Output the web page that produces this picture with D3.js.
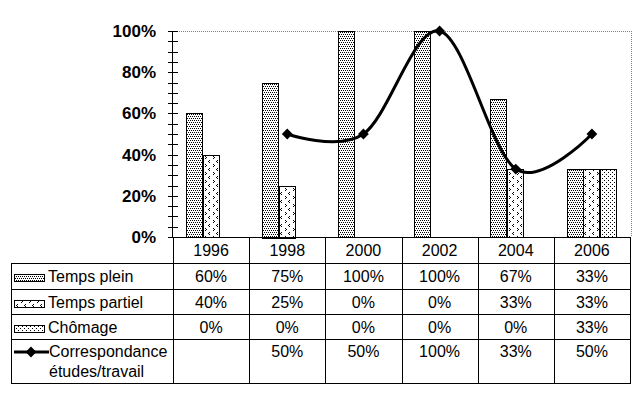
<!DOCTYPE html>
<html><head><meta charset="utf-8">
<script src="https://cdn.jsdelivr.net/npm/d3@7"></script>
<style>
body{margin:0;background:#fff;}
svg{display:block;font-family:"Liberation Sans",Arial,sans-serif;}
</style></head>
<body><svg id="c" width="640" height="400"></svg>
<script>
const years = ["1996","1998","2000","2002","2004","2006"];
const seriesNames = ["Temps plein","Temps partiel","Chômage"];
const tempsPlein = [0.60,0.75,1.00,1.00,0.67,0.33];
const tempsPartiel = [0.40,0.25,0.00,0.00,0.33,0.33];
const chomage = [0.00,0.00,0.00,0.00,0.00,0.33];
const correspondance = [null,0.50,0.50,1.00,0.33,0.50];
const lineName = ["Correspondance","études/travail"];
const yTicks = [0,0.2,0.4,0.6,0.8,1.0];
const tableText = {
  "Temps plein": ["60%","75%","100%","100%","67%","33%"],
  "Temps partiel": ["40%","25%","0%","0%","33%","33%"],
  "Chômage": ["0%","0%","0%","0%","0%","33%"],
  "line": ["","50%","50%","100%","33%","50%"]
};
const barSeries = [tempsPlein,tempsPartiel,chomage];

const svg = d3.select("#c");
const L=173, R=630, T=31, B=237;
const defs = svg.append("defs");
function pat(id,w,h,pts){
  const p=defs.append("pattern").attr("id",id).attr("patternUnits","userSpaceOnUse")
    .attr("width",w).attr("height",h);
  p.append("rect").attr("width",w).attr("height",h).attr("fill","#fff");
  pts.forEach(([x,y])=>p.append("rect").attr("x",x).attr("y",y).attr("width",1).attr("height",1).attr("fill","#000"));
}
pat("p0",4,4,[[0,0],[2,0],[1,2],[3,2]]);
pat("p1",8,8,[[1,0],[0,1],[1,2],[5,4],[6,5],[5,6]]);
pat("p2",4,4,[[0,0],[2,2]]);
const fills=["url(#p0)","url(#p1)","url(#p2)"];

const x = d3.scaleBand().domain(years).range([L,R]).padding(0);
const bw = x.bandwidth();
const xs = d3.scaleBand().domain(seriesNames).range([bw/6, bw*5/6]).padding(0);
const y = d3.scaleLinear().domain([0,1]).range([B,T]);

// plot border (dotted gray)
svg.append("path").attr("d",`M${L},${T+0.5}H${R+1.5}V${B}`).attr("fill","none")
  .attr("stroke","#808080").attr("stroke-dasharray","1,1").attr("shape-rendering","crispEdges");

// bars
barSeries.forEach((vals,si)=>{
  svg.append("g").selectAll("rect").data(vals).join("rect")
    .attr("x",(d,i)=>Math.round(x(years[i])+xs(seriesNames[si]))+0.5)
    .attr("y",d=>Math.round(y(d))+0.5)
    .attr("width",Math.round(xs.bandwidth())-1)
    .attr("height",d=>Math.round(B-y(d)))
    .attr("fill",fills[si]).attr("stroke","#000").attr("stroke-width",1)
    .attr("shape-rendering","crispEdges")
    .style("display",d=>d>0?null:"none");
});

// y axis
const minor = d3.range(0,1.0001,0.05);
const ya = svg.append("g").attr("transform",`translate(${L-0.5},0)`);
ya.append("line").attr("y1",T).attr("y2",B).attr("stroke","#000").attr("shape-rendering","crispEdges");
ya.selectAll("line.t").data(minor).join("line").attr("class","t")
  .attr("x1",-5).attr("x2",5).attr("y1",d=>Math.round(y(d))+0.5).attr("y2",d=>Math.round(y(d))+0.5)
  .attr("stroke","#000").attr("shape-rendering","crispEdges");
svg.append("g").selectAll("text").data(yTicks).join("text")
  .attr("x",156).attr("y",d=>y(d)+6).attr("text-anchor","end")
  .attr("font-size",17).attr("font-weight","bold").text(d=>d3.format(".0%")(d));

// line
const lineGen = d3.line().defined(d=>d!=null)
  .x((d,i)=>x(years[i])+bw/2).y(d=>y(d)).curve(d3.curveCardinal.tension(0));
svg.append("path").datum(correspondance).attr("d",lineGen)
  .attr("fill","none").attr("stroke","#000").attr("stroke-width",3);
const diamond = d3.symbol().type(d3.symbolDiamond2).size(74);
svg.append("g").selectAll("path").data(correspondance.map((v,i)=>({v,i})).filter(d=>d.v!=null)).join("path")
  .attr("transform",d=>`translate(${x(years[d.i])+bw/2},${y(d.v)})`).attr("d",diamond).attr("fill","#000");

// table
const rowsY = [237,263,289,314,339,383];
const tg = svg.append("g").attr("stroke","#000").attr("shape-rendering","crispEdges");
tg.append("line").attr("x1",L).attr("x2",R+1).attr("y1",B+0.5).attr("y2",B+0.5);
rowsY.slice(1).forEach(ry=>tg.append("line").attr("x1",11).attr("x2",R+1).attr("y1",ry+0.5).attr("y2",ry+0.5));
tg.append("line").attr("x1",11.5).attr("x2",11.5).attr("y1",263).attr("y2",384);
years.forEach(yr=>tg.append("line").attr("x1",Math.round(x(yr))+0.5).attr("x2",Math.round(x(yr))+0.5).attr("y1",B).attr("y2",384));
tg.append("line").attr("x1",R+0.5).attr("x2",R+0.5).attr("y1",B).attr("y2",384);

const fs=16;
// header
svg.append("g").selectAll("text").data(years).join("text")
  .attr("x",d=>x(d)+bw/2).attr("y",256).attr("text-anchor","middle").attr("font-size",fs).text(d=>d);
const rowKeys=["Temps plein","Temps partiel","Chômage","line"];
rowKeys.forEach((k,ri)=>{
  const top=rowsY[ri+1];
  const ty = ri<3 ? top+19 : top+18;
  svg.append("g").selectAll("text").data(tableText[k]).join("text")
    .attr("x",(d,i)=>x(years[i])+bw/2).attr("y",ty).attr("text-anchor","middle").attr("font-size",fs).text(d=>d);
  if(ri<3){
    svg.append("rect").attr("x",14.5).attr("y",top+11.5).attr("width",30).attr("height",7)
      .attr("fill",fills[ri]).attr("stroke","#000").attr("shape-rendering","crispEdges");
    svg.append("text").attr("x",48).attr("y",ty).attr("font-size",fs).text(k);
  } else {
    const ly=top+13;
    svg.append("line").attr("x1",14).attr("x2",49).attr("y1",ly).attr("y2",ly).attr("stroke","#000").attr("stroke-width",3);
    svg.append("path").attr("transform",`translate(31,${ly})`).attr("d",diamond).attr("fill","#000");
    svg.append("text").attr("x",49).attr("y",ty).attr("font-size",fs).text(lineName[0]);
    svg.append("text").attr("x",49).attr("y",ty+20).attr("font-size",fs).text(lineName[1]);
  }
});
</script></body></html>
